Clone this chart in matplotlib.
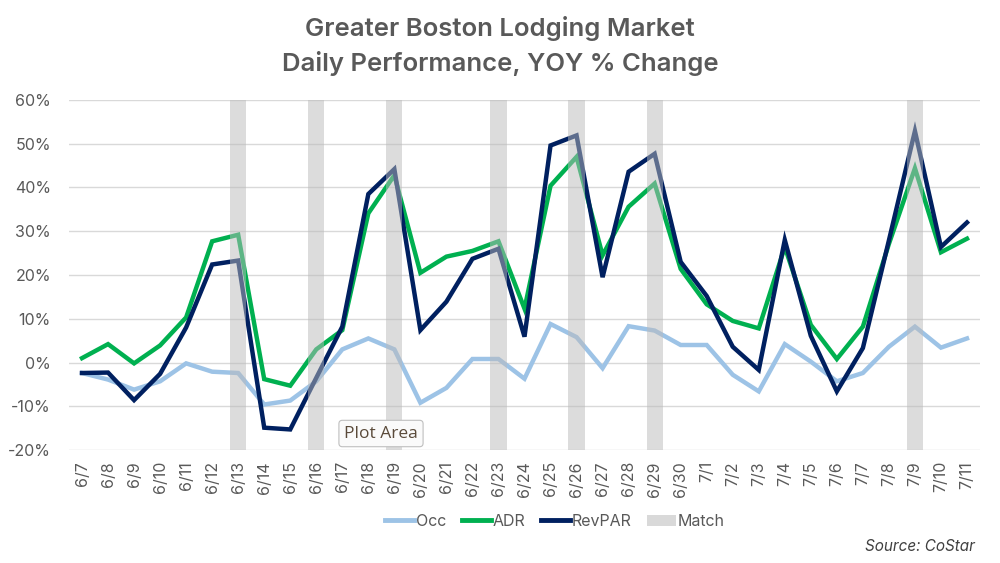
"""
Greater Boston lodging market, daily YOY % change (Occ / ADR / RevPAR)
"""

import matplotlib
matplotlib.use("Agg")
import matplotlib.pyplot as plt
import numpy as np
from matplotlib.patches import Patch
from matplotlib.lines import Line2D

dates = ['6/7', '6/8', '6/9', '6/10', '6/11', '6/12', '6/13', '6/14', '6/15', '6/16',
         '6/17', '6/18', '6/19', '6/20', '6/21', '6/22', '6/23', '6/24', '6/25', '6/26',
         '6/27', '6/28', '6/29', '6/30', '7/1', '7/2', '7/3', '7/4', '7/5', '7/6',
         '7/7', '7/8', '7/9', '7/10', '7/11']

occ = [-2.4, -3.9, -6.2, -4.3, -0.2, -2.1, -2.4, -9.6, -8.7, -4.3,
       3.0, 5.5, 3.0, -9.2, -5.8, 0.8, 0.8, -3.7, 8.8, 5.8,
       -1.3, 8.3, 7.3, 4.0, 4.0, -2.8, -6.6, 4.2, 0.2, -4.3,
       -2.4, 3.6, 8.2, 3.4, 5.5]

adr = [1.0, 4.2, -0.2, 3.9, 10.3, 27.7, 29.2, -3.8, -5.3, 3.0,
       7.4, 34.1, 42.8, 20.5, 24.2, 25.5, 27.7, 12.3, 40.4, 47.0,
       24.5, 35.6, 40.9, 21.4, 13.3, 9.5, 7.8, 26.4, 8.6, 0.8,
       8.2, 27.1, 44.4, 25.2, 28.3]

revpar = [-2.4, -2.3, -8.6, -2.6, 8.0, 22.4, 23.3, -14.9, -15.3, -3.5,
          8.2, 38.5, 44.2, 7.4, 13.9, 23.7, 26.0, 5.9, 49.6, 51.9,
          19.5, 43.6, 47.7, 23.0, 15.2, 3.6, -1.7, 28.0, 6.1, -6.6,
          3.3, 27.9, 52.9, 26.4, 32.0]

match_days = ['6/13', '6/16', '6/19', '6/23', '6/26', '6/29', '7/9']

yticks = [-20, -10, 0, 10, 20, 30, 40, 50, 60]

text_grey = '#595959'
plt.rcParams['font.family'] = ['Inter', 'DejaVu Sans']

fig = plt.figure(figsize=(10, 5.63), dpi=100)
ax = fig.add_axes([0.069, 0.2007, 0.911, 0.6217])

x = np.arange(len(dates))

ax.plot(x, occ, color='#9DC3E6', lw=3.2, solid_joinstyle='miter', zorder=3)
ax.plot(x, adr, color='#00B050', lw=3.2, solid_joinstyle='miter', zorder=4)
ax.plot(x, revpar, color='#002060', lw=3.2, solid_joinstyle='miter', zorder=5)

# match days shaded on top of the lines, semi-transparent
for d in match_days:
    i = dates.index(d)
    ax.axvspan(i - 0.31, i + 0.31, color='#BBBBBB', alpha=0.5, lw=0, zorder=6)

ax.set_xlim(-0.5, len(dates) - 0.5)
ax.set_ylim(-20, 60)
ax.set_yticks(yticks)
ax.set_yticklabels([f"{v}%" for v in yticks])
ax.set_xticks(x)
ax.set_xticklabels(dates, rotation=90)

ax.grid(axis='y', color='#D9D9D9', lw=1, zorder=0)
ax.set_axisbelow(True)
for s in ax.spines.values():
    s.set_visible(False)
ax.tick_params(axis='both', length=0, colors=text_grey, labelsize=11.5)
ax.tick_params(axis='y', pad=13)
ax.tick_params(axis='x', pad=8)

fig.text(0.5, 0.95, "Greater Boston Lodging Market", ha='center', va='center',
         fontsize=18.5, fontweight='semibold', color=text_grey)
fig.text(0.5, 0.888, "Daily Performance, YOY % Change", ha='center', va='center',
         fontsize=18.5, fontweight='semibold', color=text_grey)

handles = [Line2D([], [], color='#9DC3E6', lw=3.5),
           Line2D([], [], color='#00B050', lw=3.5),
           Line2D([], [], color='#002060', lw=3.5),
           Patch(facecolor='#D9D9D9', edgecolor='none')]
fig.legend(handles, ['Occ', 'ADR', 'RevPAR', 'Match'], loc='center',
           bbox_to_anchor=(0.555, 0.074), ncol=4, frameon=False, fontsize=11.5,
           handlelength=1.8, handletextpad=0.1, columnspacing=1.0,
           labelcolor=text_grey)

fig.text(0.975, 0.03, "Source: CoStar", ha='right', va='center', fontsize=11,
         style='italic', color='#404040')

# Excel tooltip captured in the screenshot
fig.text(0.381, 0.23, "Plot Area", ha='center', va='center', fontsize=12.5,
         family=['Open Sans', 'DejaVu Sans'], color='#5a4a3a', zorder=10,
         bbox=dict(boxstyle='round,pad=0.3,rounding_size=0.2', fc='#FAFAFA',
                   ec='#BFBFBF', lw=0.8))

fig.savefig('out.png', dpi=100, facecolor='white')
